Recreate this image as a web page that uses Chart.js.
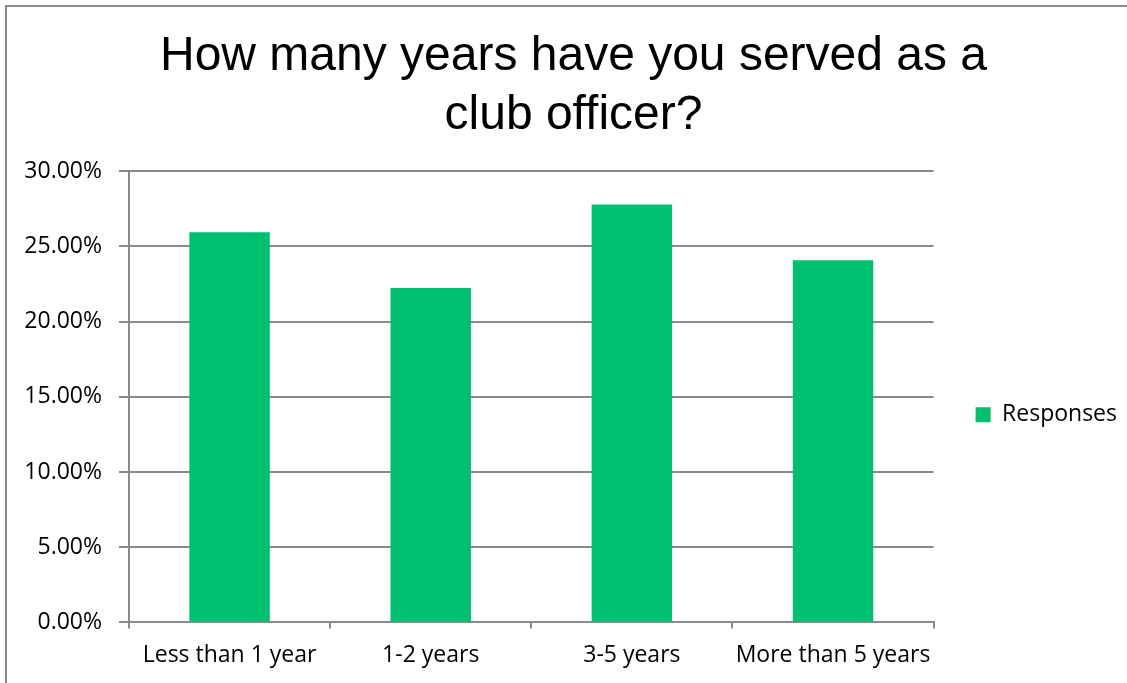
<!DOCTYPE html>
<html>
<head>
<meta charset="utf-8">
<title>Years served as a club officer</title>
<script src="https://cdn.jsdelivr.net/npm/chart.js@4"></script>
<style>
  html, body { margin: 0; padding: 0; background: #fff; overflow: hidden; }
  #wrap { position: relative; width: 1127px; height: 683px; }
  /* frame around the chart, runs off the right and bottom edges */
  #frame {
    position: absolute; left: 5px; top: 5px; width: 1200px; height: 800px;
    border: 2px solid #8a8a8a; pointer-events: none;
  }
</style>
</head>
<body>
<div id="wrap">
  <canvas id="chart" width="1127" height="683"></canvas>
  <div id="frame"></div>
</div>
<script>
// survey answers
const categories = ['Less than 1 year', '1-2 years', '3-5 years', 'More than 5 years'];
const responses = [25.93, 22.22, 27.78, 24.07]; // percent of respondents
const yTicks = [0, 5, 10, 15, 20, 25, 30];

const axisGray = '#8a8a8a';
const labelFont = { family: "'Open Sans', sans-serif", size: 23 };

const ctx = document.getElementById('chart');
const chart = new Chart(ctx, {
  type: 'bar',
  data: {
    labels: categories,
    datasets: [{
      label: 'Responses',
      data: responses,
      backgroundColor: '#00C070',
      borderWidth: 0,
      categoryPercentage: 1,
      barPercentage: 0.4
    }]
  },
  options: {
    responsive: false,
    animation: false,
    layout: { padding: { left: 20, right: 0, top: 0, bottom: 1 } },
    plugins: {
      title: {
        display: true,
        text: ['How many years have you served as a', 'club officer?'],
        color: '#000',
        font: { family: "'Liberation Sans', Arial, sans-serif", size: 48, weight: 'normal', lineHeight: 1.23 },
        padding: { top: 27, bottom: 26 }
      },
      legend: {
        position: 'right',
        fullSize: false,
        // empty title just nudges the entry below the plot's middle
        title: { display: true, text: '', font: { size: 20, lineHeight: 1.2 }, padding: { top: 6, bottom: 6 } },
        labels: {
          boxWidth: 15,
          boxHeight: 15,
          padding: 42,
          color: '#000',
          font: labelFont
        }
      },
      tooltip: { enabled: false }
    },
    scales: {
      x: {
        grid: { display: true, drawOnChartArea: false, drawTicks: true, tickLength: 6, color: axisGray, lineWidth: 2 },
        border: { display: true, color: axisGray, width: 2 },
        ticks: { color: '#000', font: labelFont, padding: 13, maxRotation: 0 }
      },
      y: {
        min: yTicks[0],
        max: yTicks[yTicks.length - 1],
        afterBuildTicks: (scale) => { scale.ticks = yTicks.map(v => ({ value: v })); },
        // fixed width so the plot starts where the axis labels end
        afterFit: (scale) => { scale.width = 109; },
        grid: { color: axisGray, lineWidth: 2, tickLength: 10 },
        border: { display: true, color: axisGray, width: 2 },
        ticks: {
          color: '#000',
          font: labelFont,
          padding: 17,
          callback: (v) => Number(v).toFixed(2) + '%'
        }
      }
    }
  }
});
</script>
</body>
</html>
